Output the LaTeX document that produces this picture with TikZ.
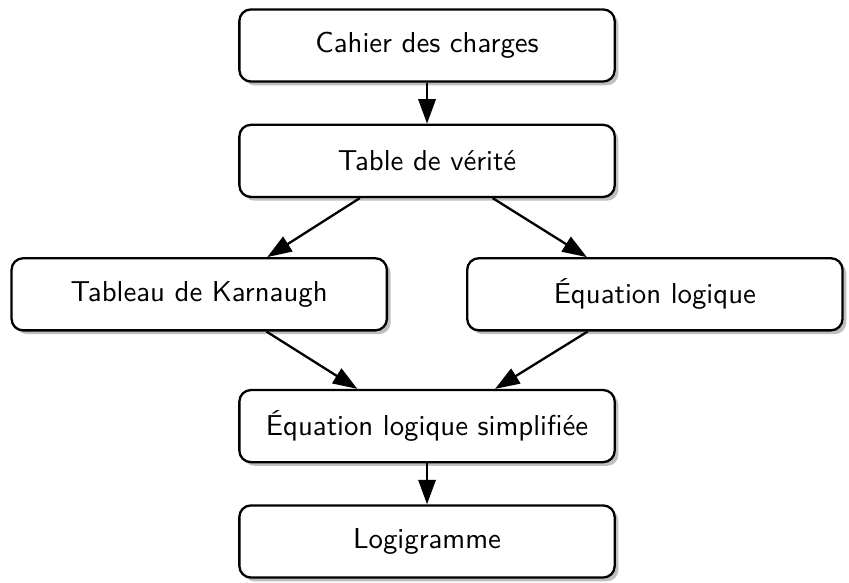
\documentclass[tikz,border=0pt]{standalone}
\usepackage{tikz}
\usetikzlibrary{shapes,arrows.meta}
\usetikzlibrary{positioning}
\usetikzlibrary{shadows}

\tikzset{
  etape/.style={draw, thick, rounded corners=4pt, fill=white,
    minimum width=4.58cm, minimum height=0.88cm, font=\sffamily,
    drop shadow={shadow xshift=1.3pt, shadow yshift=-1.3pt, opacity=1, fill=black!25}},
  fleche/.style={thick, -{Triangle[length=8.5pt,width=6pt]}}
}

\begin{document}
\begin{tikzpicture}
  \useasboundingbox (0,0) rectangle (10.36,-7.114);
  \node[etape] (cahier) at (5.211,-0.555) {Cahier des charges};
  \node[etape, below=0.5cm of cahier] (verite) {Table de vérité};
  \node[etape, below=0.72cm of verite, xshift=-2.78cm] (karnaugh) {Tableau de Karnaugh};
  \node[etape, below=0.72cm of verite, xshift=2.78cm] (equation) {Équation logique};
  \node[etape, below=0.7cm of karnaugh, xshift=2.78cm] (simplifiee) {Équation logique simplifiée};
  \node[etape, below=0.5cm of simplifiee] (logigramme) {Logigramme};

  \draw[fleche] (cahier) -- (verite);
  \draw[fleche] ([xshift=-0.82cm]verite.south) -- ([xshift=0.83cm]karnaugh.north);
  \draw[fleche] ([xshift=0.8cm]verite.south) -- ([xshift=-0.83cm]equation.north);
  \draw[fleche] ([xshift=0.82cm]karnaugh.south) -- ([xshift=-0.85cm]simplifiee.north);
  \draw[fleche] ([xshift=-0.82cm]equation.south) -- ([xshift=0.83cm]simplifiee.north);
  \draw[fleche] (simplifiee) -- (logigramme);
\end{tikzpicture}
\end{document}
